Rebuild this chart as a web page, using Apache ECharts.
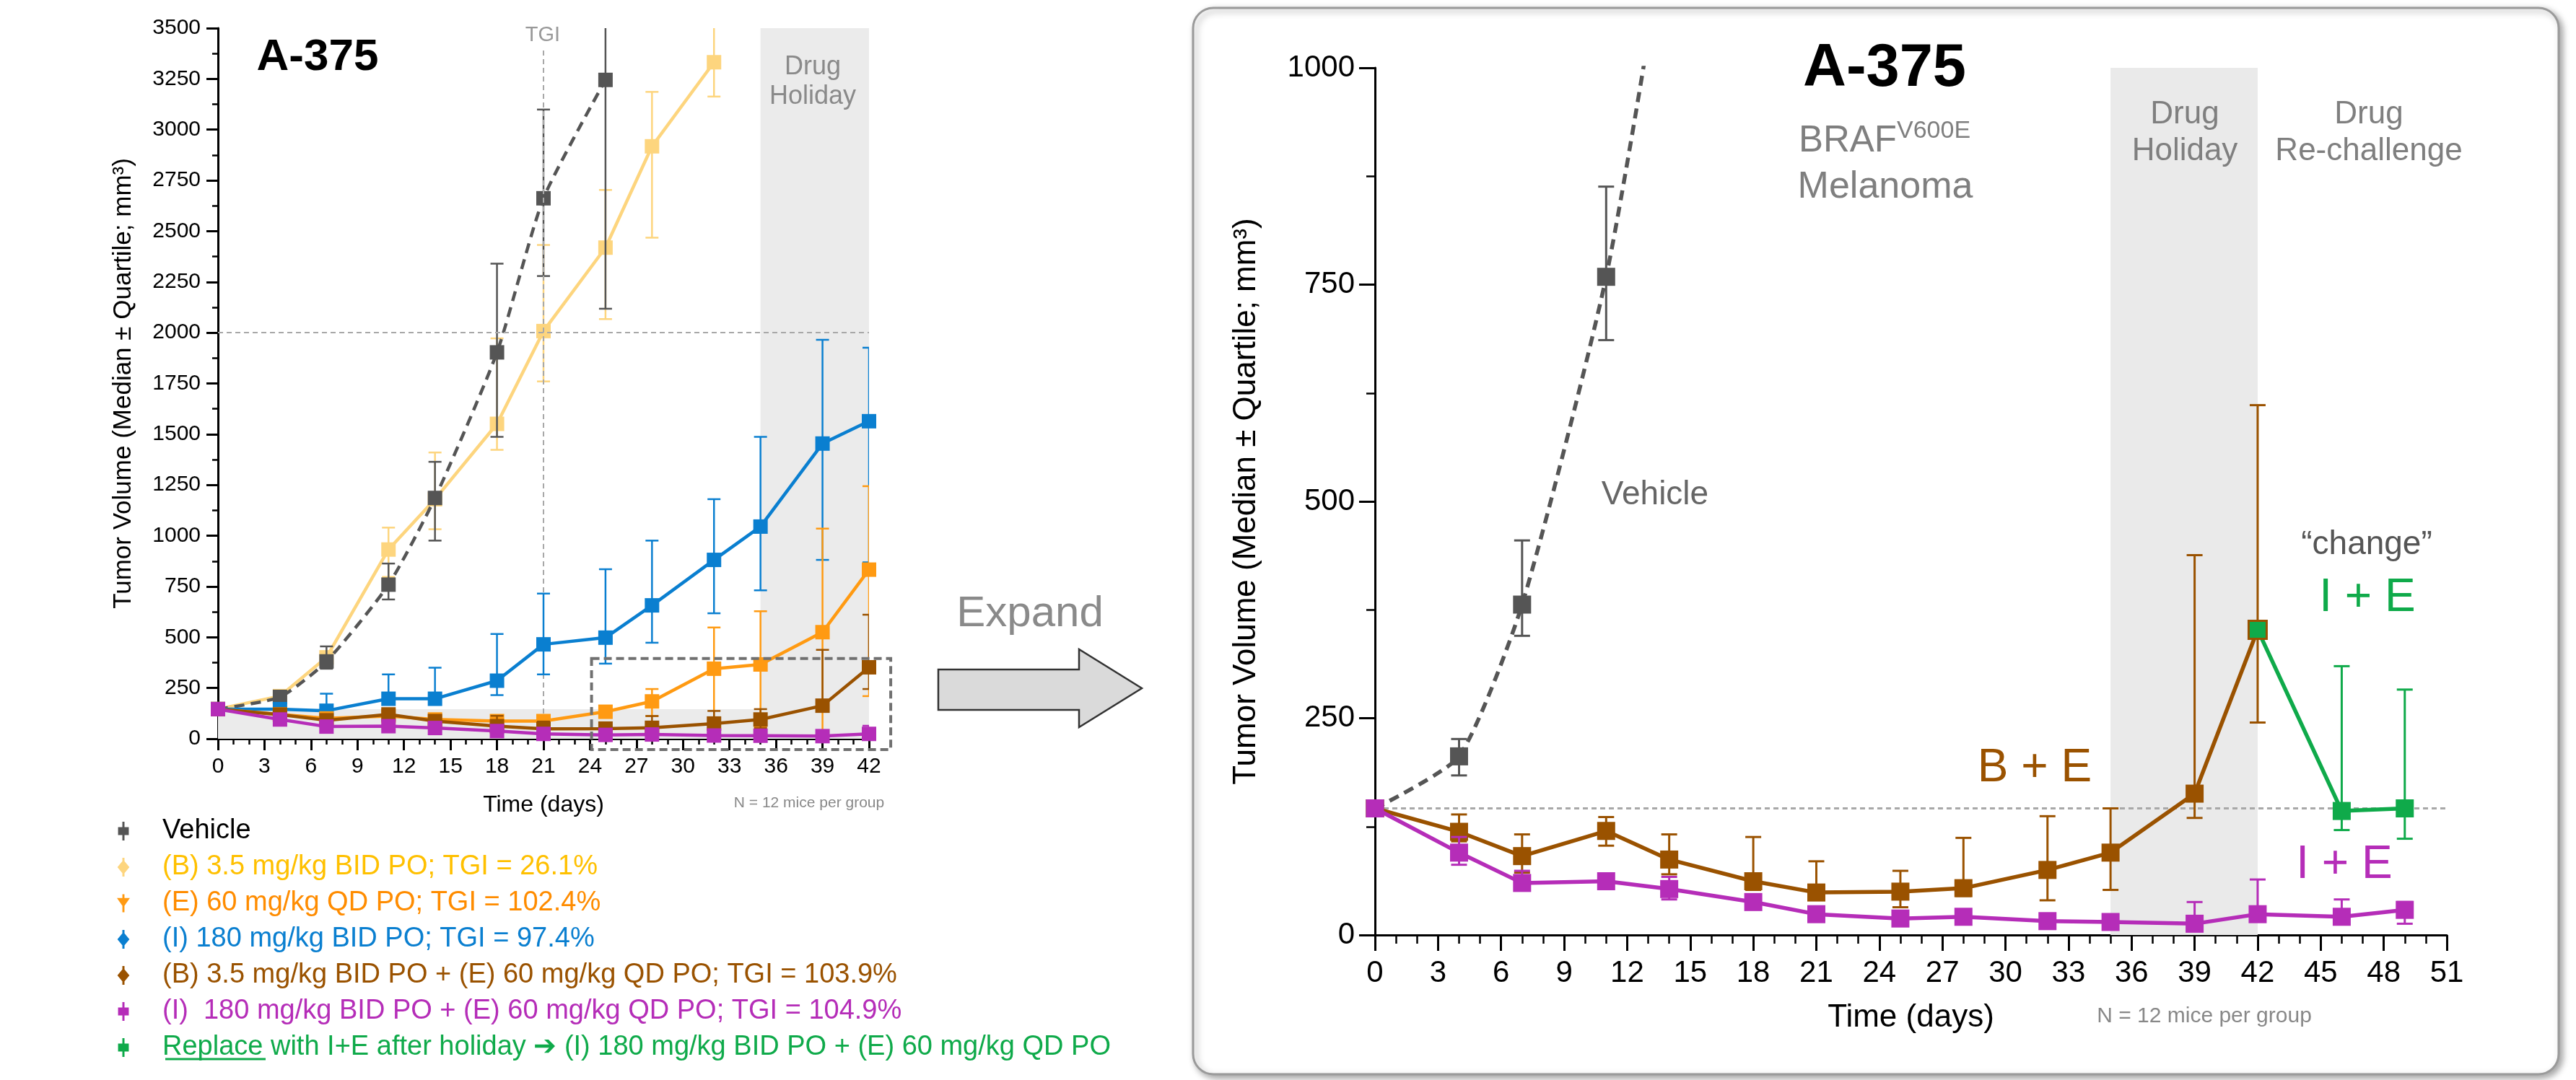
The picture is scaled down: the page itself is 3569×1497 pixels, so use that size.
<!DOCTYPE html>
<html>
<head>
<meta charset="utf-8">
<title>A-375 tumor volume</title>
<script src="https://cdn.jsdelivr.net/npm/echarts@6/dist/echarts.min.js"></script>
<style>
  html, body { margin: 0; padding: 0; background: #fff; }
  #chart { width: 3569px; height: 1497px; }
</style>
</head>
<body>
<div id="chart"></div>
<script>
// measurement days
const days = [0, 4, 7, 11, 14, 18, 21, 25, 28, 32, 35, 39, 42];
const daysExt = [0, 4, 7, 11, 14, 18, 21, 25, 28, 32, 35, 39, 42, 46, 49];
const daysChange = [42, 46, 49];

// medians and quartiles (mm3)
const vehicleMed = [146, 206, 381, 759, 1186, 1903, 2662, 3245];
const vehicleLo  = [146, 184, 345, 686, 976, 1487, 2279, 2118];
const vehicleHi  = [146, 226, 455, 863, 1364, 2340, 3099, 3650];

const bMed = [146, 210, 401, 932, 1180, 1551, 2008, 2419, 2918, 3332];
const bLo  = [146, 200, 370, 797, 1032, 1423, 1760, 2067, 2468, 3163];
const bHi  = [146, 222, 430, 1040, 1410, 1972, 2432, 2703, 3186, 3650];

const eMed = [146, 120, 100, 112, 95, 87, 87, 133, 184, 345, 366, 525, 833];
const eLo  = [146, 110, 90, 100, 85, 78, 78, 120, 112, 69, 56, 10, 210];
const eHi  = [146, 128, 110, 124, 104, 96, 96, 148, 245, 548, 628, 1035, 1244];

const iMed = [146, 146, 138, 197, 197, 286, 465, 498, 657, 881, 1045, 1454, 1564];
const iLo  = [146, 140, 120, 170, 175, 215, 317, 370, 473, 618, 731, 881, 869];
const iHi  = [146, 152, 222, 317, 350, 516, 715, 835, 976, 1180, 1487, 1965, 1926];

const beMed = [146, 119, 91, 120, 87, 62, 49, 50, 54, 75, 95, 163, 352];
const beLo  = [146, 108, 72, 103, 70, 52, 42, 32, 45, 40, 52, 135, 245];
const beHi  = [146, 139, 116, 136, 116, 113, 85, 74, 112, 137, 146, 438, 611];

const ieMed = [146, 95, 60, 62, 53, 38, 24, 19, 21, 16, 15, 13, 24, 21, 29];
const ieLo  = [146, 81, 55, 56, 41, 32, 20, 15, 17, 12, 11, 9, 18, 16, 13];
const ieHi  = [146, 113, 74, 68, 67, 44, 28, 23, 25, 20, 19, 38, 64, 41, 38];

const chgMed = [352, 143, 146];
const chgLo  = [352, 121, 111];
const chgHi  = [352, 310, 283];

const baseline = 146;
const holiday = [35, 42];
const tgiDay = 21;
const zoomBox = [24.1, -53, 43.4, 395];

const names = [
  'Vehicle',
  '(B) 3.5 mg/kg BID PO; TGI = 26.1%',
  '(E) 60 mg/kg QD PO; TGI = 102.4%',
  '(I) 180 mg/kg BID PO; TGI = 97.4%',
  '(B) 3.5 mg/kg BID PO + (E) 60 mg/kg QD PO; TGI = 103.9%',
  '(I)  180 mg/kg BID PO + (E) 60 mg/kg QD PO; TGI = 104.9%',
  'Replace with I+E after holiday \u2794 (I) 180 mg/kg BID PO + (E) 60 mg/kg QD PO'
];
const lineColors = ['#555555', '#FDD57E', '#FF9A12', '#0A7FD0', '#9A5200', '#B52DB8', '#0FAA4A'];
const textColors = ['#000000', '#FFC000', '#FF8C00', '#0A7FD0', '#9A5200', '#B52DB8', '#0FAA4A'];

const FONT = "'Liberation Sans', Arial, Helvetica, sans-serif";

const SQ = 'path://M4.2,0H5.8V4H9V10H5.8V14H4.2V10H1V4H4.2Z';
const DIA = 'path://M4.2,0H5.8V2.5L9.5,7L5.8,11.5V14H4.2V11.5L0.5,7L4.2,2.5Z';
const TRI = 'path://M4.2,0H5.8V3H10L5.8,9V14H4.2V9L0,3H4.2Z';
const icons = [SQ, DIA, TRI, DIA, DIA, SQ, SQ];

function pts(xs, ys) {
  return ys.map((v, i) => [xs[i], v]);
}
function bars(xs, lo, hi) {
  return lo.map((v, i) => [xs[i], v, hi[i]]);
}
function upTo(arr, maxX) {
  return arr.filter(d => d[0] <= maxX);
}

function errorBar(capW, lw, color) {
  return function (params, api) {
    const x = api.value(0);
    const lo = api.coord([x, api.value(1)]);
    const hi = api.coord([x, api.value(2)]);
    const st = { stroke: color, lineWidth: lw, fill: null };
    return {
      type: 'group',
      children: [
        { type: 'line', shape: { x1: lo[0], y1: lo[1], x2: hi[0], y2: hi[1] }, style: st },
        { type: 'line', shape: { x1: lo[0] - capW / 2, y1: lo[1], x2: lo[0] + capW / 2, y2: lo[1] }, style: st },
        { type: 'line', shape: { x1: hi[0] - capW / 2, y1: hi[1], x2: hi[0] + capW / 2, y2: hi[1] }, style: st }
      ]
    };
  };
}

// grid 0 = overview, grid 1 = expanded view
const look = [
  { sym: 20, width: 4.5, bar: 2.5, cap: 18 },
  { sym: 25, width: 5.5, bar: 3, cap: 22 }
];

function group(idx, grid, data, errs, z, dashed) {
  const c = lineColors[idx];
  const L = look[grid];
  return [
    {
      type: 'line', name: names[idx], xAxisIndex: grid, yAxisIndex: grid,
      data: data, symbol: 'rect', symbolSize: L.sym, clip: true, z: z,
      smooth: dashed ? 0.2 : false,
      lineStyle: { color: c, width: L.width, type: dashed ? [14, 9] : 'solid' },
      itemStyle: { color: c }
    },
    {
      type: 'custom', name: names[idx], xAxisIndex: grid, yAxisIndex: grid,
      data: errs, renderItem: errorBar(L.cap, L.bar, c), clip: true, z: z,
      encode: { x: 0, y: [1, 2] }, silent: true
    }
  ];
}

const series = [];

// overview helpers: shading, reference lines, zoom box
series.push({
  type: 'line', xAxisIndex: 0, yAxisIndex: 0, data: [], z: 1, silent: true,
  markArea: {
    silent: true, itemStyle: { color: '#EBEBEB' },
    data: [
      [{ xAxis: 0, yAxis: 0 }, { xAxis: 42, yAxis: baseline }],
      [{ xAxis: holiday[0], yAxis: 0 }, { xAxis: holiday[1], yAxis: 3500 }]
    ]
  },
  markLine: {
    silent: true, symbol: 'none', label: { show: false },
    lineStyle: { color: '#A8A8A8', width: 2, type: [7, 5] },
    data: [
      [{ coord: [0, 2000] }, { coord: [42, 2000] }],
      [{ coord: [tgiDay, 3390] }, { coord: [tgiDay, 0] }]
    ]
  }
});
series.push({
  type: 'custom', xAxisIndex: 0, yAxisIndex: 0, data: [zoomBox], clip: false, z: 20, silent: true,
  encode: { x: [0, 2], y: [1, 3] },
  renderItem: function (params, api) {
    const a = api.coord([api.value(0), api.value(3)]);
    const b = api.coord([api.value(2), api.value(1)]);
    return {
      type: 'rect',
      shape: { x: a[0], y: a[1], width: b[0] - a[0], height: b[1] - a[1] },
      style: { fill: null, stroke: '#707070', lineWidth: 4, lineDash: [11, 6] }
    };
  }
});

series.push(...group(1, 0, pts(days, bMed), bars(days, bLo, bHi), 3));
series.push(...group(0, 0, pts(days, vehicleMed), bars(days, vehicleLo, vehicleHi), 4, true));
series.push(...group(3, 0, pts(days, iMed), bars(days, iLo, iHi), 5));
series.push(...group(2, 0, pts(days, eMed), bars(days, eLo, eHi), 6));
series.push(...group(4, 0, pts(days, beMed), bars(days, beLo, beHi), 7));
series.push(...group(5, 0, upTo(pts(daysExt, ieMed), 42), upTo(bars(daysExt, ieLo, ieHi), 42), 8));

// expanded view helpers
series.push({
  type: 'line', xAxisIndex: 1, yAxisIndex: 1, data: [], z: 1, silent: true,
  markArea: {
    silent: true, itemStyle: { color: '#EAEAEA' },
    data: [[{ xAxis: holiday[0], yAxis: 0 }, { xAxis: holiday[1], yAxis: 1000 }]]
  },
  markLine: {
    silent: true, symbol: 'none', label: { show: false },
    lineStyle: { color: '#A8A8A8', width: 3, type: [7, 5] },
    data: [[{ coord: [0, baseline] }, { coord: [51, baseline] }]]
  }
});
series.push(...group(0, 1, pts(days, vehicleMed), upTo(bars(days, vehicleLo, vehicleHi), 11), 4, true));
series.push(...group(4, 1, pts(days, beMed), bars(days, beLo, beHi), 5));
series.push(...group(5, 1, pts(daysExt, ieMed), bars(daysExt, ieLo, ieHi), 6));
const chgData = pts(daysChange, chgMed);
chgData[0] = { value: chgData[0], itemStyle: { borderColor: lineColors[4], borderWidth: 3 } };
series.push(...group(6, 1, chgData, bars(daysChange, chgLo, chgHi), 7));

function xAxis(grid, max, fs, tick, minor, margin, gap, nameFs) {
  return {
    type: 'value', gridIndex: grid, min: 0, max: max, interval: 3,
    axisLine: { show: true, onZero: false, lineStyle: { color: '#000', width: 3 } },
    axisTick: { show: true, length: tick, lineStyle: { color: '#000', width: 3 } },
    minorTick: { show: true, splitNumber: 3, length: minor, lineStyle: { color: '#000', width: 2.5 } },
    splitLine: { show: false },
    axisLabel: { fontSize: fs, color: '#000', margin: margin, fontFamily: FONT, formatter: v => String(v) },
    name: 'Time (days)', nameLocation: 'middle', nameGap: gap,
    nameTextStyle: { fontSize: nameFs, color: '#000', fontFamily: FONT }
  };
}
function yAxis(grid, max, fs, tick, minor, margin, gap, nameFs) {
  return {
    type: 'value', gridIndex: grid, min: 0, max: max, interval: 250,
    axisLine: { show: true, onZero: false, lineStyle: { color: '#000', width: 3 } },
    axisTick: { show: true, length: tick, lineStyle: { color: '#000', width: 3 } },
    minorTick: { show: true, splitNumber: 2, length: minor, lineStyle: { color: '#000', width: 2.5 } },
    splitLine: { show: false },
    axisLabel: { fontSize: fs, color: '#000', margin: margin, fontFamily: FONT, formatter: v => String(v) },
    name: 'Tumor Volume (Median \u00b1 Quartile; mm\u00b3)', nameLocation: 'middle', nameGap: gap,
    nameTextStyle: { fontSize: nameFs, color: '#000', fontFamily: FONT }
  };
}

function txt(x, y, text, size, color, extra) {
  return {
    type: 'text', x: x, y: y, z: 50, silent: true,
    style: Object.assign({
      text: text, fill: color, fontSize: size, fontFamily: FONT,
      align: 'center', verticalAlign: 'middle'
    }, extra || {})
  };
}

const graphics = [
  // expanded panel frame
  {
    type: 'rect', z: -10, silent: true,
    shape: { x: 1653, y: 11, width: 1892, height: 1478, r: 28 },
    style: { fill: '#fff', stroke: '#9a9a9a', lineWidth: 3, shadowBlur: 10, shadowOffsetX: 4, shadowOffsetY: 4, shadowColor: 'rgba(0,0,0,0.35)' }
  },
  // expand arrow
  {
    type: 'polygon', z: 50, silent: true,
    shape: { points: [[1300, 928], [1495, 928], [1495, 900], [1582, 954], [1495, 1008], [1495, 984], [1300, 984]] },
    style: { fill: '#DADADA', stroke: '#333', lineWidth: 2.5 }
  },
  txt(1427, 851, 'Expand', 60, '#8a8a8a'),
  // overview annotations
  txt(440, 80, 'A-375', 62, '#000', { fontWeight: 'bold' }),
  txt(752, 49, 'TGI', 29, '#999'),
  txt(1126, 114, 'Drug\nHoliday', 36, '#8a8a8a', { lineHeight: 41 }),
  txt(1121, 1113, 'N = 12 mice per group', 21, '#888'),
  // expanded annotations
  txt(2611, 96, 'A-375', 83, '#000', { fontWeight: 'bold' }),
  txt(2628, 196, 'BRAF', 51, '#7f7f7f', { align: 'right' }),
  txt(2628, 182, 'V600E', 34, '#7f7f7f', { align: 'left' }),
  txt(2612, 260, 'Melanoma', 52, '#7f7f7f'),
  txt(3027, 184, 'Drug\nHoliday', 44, '#7f7f7f', { lineHeight: 51 }),
  txt(3282, 184, 'Drug\nRe-challenge', 44, '#7f7f7f', { lineHeight: 51 }),
  txt(2293, 686, 'Vehicle', 46, '#666'),
  txt(3279, 755, '\u201cchange\u201d', 46, '#555'),
  txt(3280, 829, 'I + E', 64, lineColors[6]),
  txt(2819, 1065, 'B + E', 64, lineColors[4]),
  txt(3248, 1199, 'I + E', 64, lineColors[5]),
  txt(3054, 1409, 'N = 12 mice per group', 30, '#888'),
  // underline for "Replace" in legend
  { type: 'line', z: 50, silent: true, shape: { x1: 229, y1: 1468, x2: 368, y2: 1468 }, style: { stroke: lineColors[6], lineWidth: 3 } }
];

const chart = echarts.init(document.getElementById('chart'), null, { renderer: 'canvas' });
chart.setOption({
  animation: false,
  backgroundColor: '#fff',
  textStyle: { fontFamily: FONT },
  grid: [
    { left: 302, top: 39, width: 902, height: 985, outerBoundsMode: 'none' },
    { left: 1905, top: 94, width: 1485, height: 1202, outerBoundsMode: 'none' }
  ],
  xAxis: [
    xAxis(0, 42, 30, 16, 8, 24, 76, 32),
    xAxis(1, 51, 42, 22, 12, 32, 93, 44)
  ],
  yAxis: [
    yAxis(0, 3500, 30, 16, 8, 24, 113, 35),
    yAxis(1, 1000, 42, 22, 12, 28, 156, 44)
  ],
  legend: {
    orient: 'vertical', left: 157, top: 1128,
    itemWidth: 18, itemHeight: 26, itemGap: 12,
    selectedMode: false,
    textStyle: { fontSize: 38, fontFamily: FONT, padding: [0, 0, 0, 40] },
    data: names.map((n, i) => ({
      name: n, icon: icons[i],
      itemStyle: { color: lineColors[i] },
      textStyle: { color: textColors[i] }
    }))
  },
  graphic: graphics,
  series: series
});
</script>
</body>
</html>
